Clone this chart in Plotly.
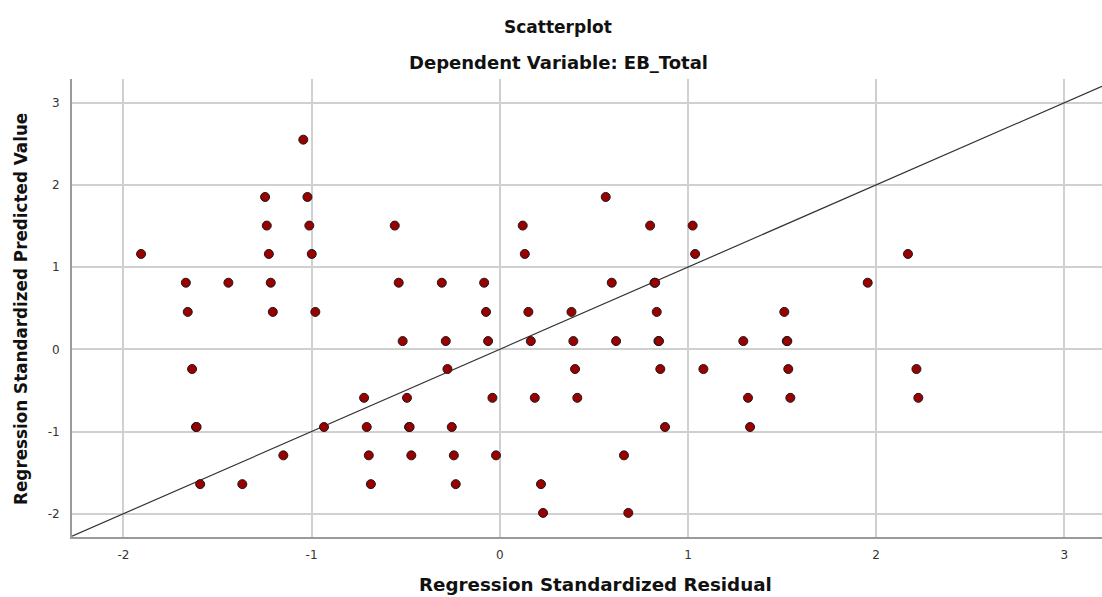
import plotly.graph_objects as go

# Regression standardized residual (x) and predicted value (y)
resid = [
    -1.044,
    -1.247, -1.022, 0.563,
    -1.238, -1.012, -0.558, 0.122, 0.799, 1.025,
    -1.906, -1.227, -0.999, 0.133, 1.038, 2.169,
    -1.668, -1.442, -1.217, -0.537, -0.308, -0.083, 0.595, 0.822, 0.826, 1.955,
    -1.658, -1.206, -0.980, -0.073, 0.152, 0.381, 0.834, 1.512,
    -0.516, -0.287, -0.062, 0.165, 0.391, 0.618, 0.843, 0.846, 1.294, 1.525, 1.528,
    -1.635, -0.278, 0.400, 0.853, 1.082, 1.533, 2.214,
    -0.721, -0.493, -0.039, 0.186, 0.412, 1.319, 1.544, 2.224,
    -1.614, -1.611, -0.934, -0.707, -0.482, -0.479, -0.255, 0.878, 1.330,
    -1.150, -0.696, -0.470, -0.244, -0.020, 0.660,
    -1.592, -1.368, -0.685, -0.234, 0.219,
    0.230, 0.683,
]
pred = (
    [2.55]
    + [1.853] * 3
    + [1.505] * 6
    + [1.16] * 6
    + [0.81] * 10
    + [0.455] * 8
    + [0.10] * 11
    + [-0.24] * 7
    + [-0.59] * 8
    + [-0.945] * 9
    + [-1.29] * 6
    + [-1.64] * 5
    + [-1.99] * 2
)

x_range = [-2.273, 3.200]
y_range = [-2.283, 3.288]
tick_vals = [-2, -1, 0, 1, 2, 3]

fig = go.Figure()

# reference line y = x
fig.add_trace(go.Scatter(
    x=x_range, y=x_range, mode="lines",
    line=dict(color="#333333", width=1.2),
    hoverinfo="skip", showlegend=False,
))

fig.add_trace(go.Scatter(
    x=resid, y=pred, mode="markers",
    marker=dict(size=9, color="#9b0000", line=dict(color="#1a1a1a", width=1)),
    showlegend=False,
))

fig.update_layout(
    width=1102, height=597,
    margin=dict(l=72, r=0, t=79, b=60),
    paper_bgcolor="white", plot_bgcolor="white",
    font=dict(family="Liberation Sans, Arial, sans-serif", color="#222222"),
    xaxis=dict(
        range=x_range, tickvals=tick_vals, ticktext=[str(v) for v in tick_vals],
        showgrid=True, gridcolor="#d0d0d0", gridwidth=1.5,
        zeroline=False, showline=True, linecolor="#9a9a9a", linewidth=2,
        tickfont=dict(size=12, color="#333333", family="DejaVu Sans"),
        ticklabelstandoff=6,
    ),
    yaxis=dict(
        range=y_range, tickvals=tick_vals, ticktext=[str(v) for v in tick_vals],
        showgrid=True, gridcolor="#d0d0d0", gridwidth=1.5,
        zeroline=False, showline=True, linecolor="#9a9a9a", linewidth=2,
        tickfont=dict(size=12, color="#333333", family="DejaVu Sans"),
        ticklabelstandoff=8,
    ),
    annotations=[
        dict(text="<b>Scatterplot</b>", x=0.472, y=1.1135, xref="paper", yref="paper",
             xanchor="center", yanchor="middle", showarrow=False,
             font=dict(size=17, family="DejaVu Sans", color="#111111")),
        dict(text="<b>Dependent Variable: EB_Total</b>", x=0.472, y=1.035, xref="paper", yref="paper",
             xanchor="center", yanchor="middle", showarrow=False,
             font=dict(size=18, family="DejaVu Sans", color="#111111")),
        dict(text="<b>Regression Standardized Residual</b>", x=0.508, y=-0.1048, xref="paper", yref="paper",
             xanchor="center", yanchor="middle", showarrow=False,
             font=dict(size=18.3, family="DejaVu Sans", color="#111111")),
        dict(text="<b>Regression Standardized Predicted Value</b>", x=-0.0495, y=0.498, xref="paper", yref="paper",
             xanchor="center", yanchor="middle", showarrow=False, textangle=-90,
             font=dict(size=16.8, family="DejaVu Sans", color="#111111")),
    ],
)

fig.write_html("out.html")
